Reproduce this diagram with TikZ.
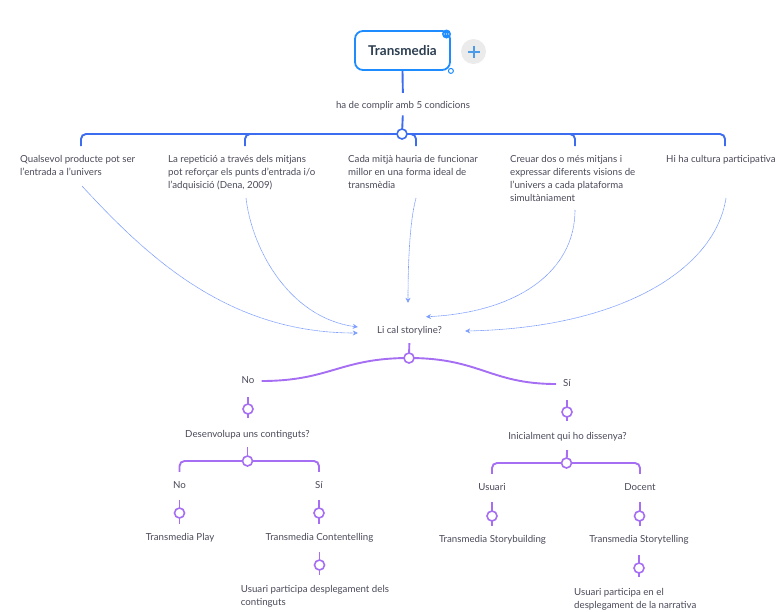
\documentclass[tikz,border=0pt]{standalone}
\usepackage{fontspec}
\setmainfont{Lato}
\usetikzlibrary{arrows.meta,backgrounds}
\definecolor{boxblue}{HTML}{1E8CFF}
\definecolor{lineblue}{HTML}{3C6CF0}
\definecolor{dotblue}{HTML}{7E9EFF}
\definecolor{purp}{HTML}{A56EF3}
\definecolor{txtc}{HTML}{4A4A5A}
\definecolor{tmtext}{HTML}{2C3E50}
\definecolor{plusbg}{HTML}{EBEBEB}
\definecolor{plusc}{HTML}{4C9BE8}
\begin{document}
\begin{tikzpicture}[x=1pt,y=-1pt,
  txt/.style={font=\fontsize{9.7}{12.9}\selectfont, text=txtc, inner sep=0pt, text height=6.5pt, text depth=2pt},
  mtxt/.style={font=\fontsize{9.7}{12.9}\selectfont, text=txtc, inner sep=0pt, align=left, anchor=north west},
  bl/.style={draw=lineblue, line width=1.9pt, rounded corners=5pt},
  pl/.style={draw=purp, line width=1.9pt, rounded corners=5pt},
  bdot/.style={circle, draw=lineblue, fill=white, line width=1.6pt, minimum size=10pt, inner sep=0pt},
  pdot/.style={circle, draw=purp, fill=white, line width=1.6pt, minimum size=10pt, inner sep=0pt},
  link/.style={draw=dotblue, line width=0.6pt, dash pattern=on 1pt off 0.4pt, -{Stealth[length=5pt,width=5pt]}}
]
\useasboundingbox (0,0) rectangle (781,611);

% ---------- top ----------
\node[draw=boxblue, line width=1.8pt, rounded corners=8pt, minimum width=95pt, minimum height=39pt,
      font=\fontsize{13.5}{15}\selectfont\bfseries, text=tmtext] (tm) at (402.5,50.5) {Transmedia};
\node[circle, fill=boxblue, minimum size=9pt, inner sep=0pt] (menu) at (446.5,34) {};
\foreach \dx in {-2.2,0,2.2} \fill[white] ([xshift=\dx pt]menu.center) circle (0.6pt);
\node[circle, draw=boxblue, fill=white, line width=1pt, minimum size=5pt, inner sep=0pt] (grip) at (tm.south east) {};
\node[circle, fill=plusbg, minimum size=25pt, inner sep=0pt] (plus) at (473.5,51.5) {};
\draw[plusc, line width=2pt] ([xshift=-6pt]plus.center) -- ([xshift=6pt]plus.center);
\draw[plusc, line width=2pt] ([yshift=-6pt]plus.center) -- ([yshift=6pt]plus.center);

\node[txt] (cond) at (403,106) {ha de complir amb 5 condicions};
\node[bdot] (c1) at (402,134) {};

\coordinate (b1) at (81,146);
\coordinate (b2) at (245,146);
\coordinate (b4) at (416,146);
\coordinate (b5) at (575,146);
\coordinate (b6) at (725,146);

\begin{scope}[on background layer]
\draw[bl, shorten >=8.75pt] (tm.south) -- (cond.north);
\draw[bl, shorten <=5pt] (cond.south) -- (c1.center);
\draw[bl] (c1.center) -| (b1);
\draw[bl] (c1.center) -| (b2);
\draw[bl] (c1.center) -| (b4);
\draw[bl] (c1.center) -| (b5);
\draw[bl] (c1.center) -| (b6);
\end{scope}

\node[mtxt] (t1) at (20,155.5) {Qualsevol producte pot ser\\l'entrada a l'univers};
\node[mtxt] (t2) at (168,155.5) {La repetició a través dels mitjans\\pot reforçar els punts d'entrada i/o\\l'adquisició (Dena, 2009)};
\node[mtxt] (t3) at (348,155.5) {Cada mitjà hauria de funcionar\\millor en una forma ideal de\\transmèdia};
\node[mtxt] (t4) at (510,155.5) {Creuar dos o més mitjans i\\expressar diferents visions de\\l'univers a cada plataforma\\simultàniament};
\node[mtxt] (t5) at (666,155.5) {Hi ha cultura participativa};

% ---------- storyline ----------
\node[txt] (story) at (409.5,331) {Li cal storyline?};

\coordinate (a0) at (82,186);
\coordinate (a1) at (246,198);
\coordinate (a2) at (416,198);
\coordinate (a3) at (575,210);
\coordinate (a4) at (726,198);

\draw[link] (a0) .. controls (150,260) and (230,333) .. ([xshift=-19pt,yshift=-2pt]story.west);
\draw[link] (a1) .. controls (252,250) and (290,318) .. ([xshift=-19pt,yshift=4pt]story.west);
\draw[link] (a2) .. controls (410,220) and (408,260) .. ([xshift=-1.5pt,yshift=23.75pt]story.north);
\draw[link] (a3) .. controls (575,270) and (520,312) .. ([xshift=16.5pt,yshift=9.75pt]story.north);
\draw[link] (a4) .. controls (715,270) and (620,328) .. ([xshift=23pt]story.east);

% ---------- purple tree ----------
\node[pdot] (p0) at (409,358) {};
\node[txt] (no1) at (248,381) {No};
\node[txt] (si1) at (567,384) {Sí};
\node[pdot] (q1) at (248,409) {};
\node[pdot] (q2) at (567,412) {};
\node[txt] (dev) at (247.5,435) {Desenvolupa uns continguts?};
\node[txt] (ini) at (567.5,437) {Inicialment qui ho dissenya?};
\node[pdot] (pc2) at (247.5,461) {};
\node[pdot] (pc3) at (566.5,463) {};
\node[txt] (no2) at (179.5,486) {No};
\node[txt] (si2) at (319,486) {Sí};
\node[txt] (us) at (492,488) {Usuari};
\node[txt] (doc) at (640,488) {Docent};
\node[pdot] (r1) at (179.5,513) {};
\node[pdot] (r2) at (319,513) {};
\node[pdot] (r3) at (492,516) {};
\node[pdot] (r4) at (639.5,516) {};
\node[txt] (play) at (180,538) {Transmedia Play};
\node[txt] (cont) at (319.5,538) {Transmedia Contentelling};
\node[txt] (sb) at (492.5,540) {Transmedia Storybuilding};
\node[txt] (st) at (639,540) {Transmedia Storytelling};
\node[pdot] (r5) at (319.5,565) {};
\node[pdot] (r6) at (639,568) {};
\node[mtxt] (u1) at (240.7,585) {Usuari participa desplegament dels\\continguts};
\node[mtxt] (u2) at (574,588.5) {Usuari participa en el\\desplegament de la narrativa};

\begin{scope}[on background layer]
\draw[pl, shorten <=7.75pt] (story.south) -- (p0.center);
\draw[pl] (p0.center) .. controls (340,358) and (330,381) .. ([xshift=7pt]no1.east);
\draw[pl] (p0.center) .. controls (480,358) and (490,384) .. ([xshift=-7pt]si1.west);
\draw[pl, shorten <=11.75pt, shorten >=12.75pt] (no1.south) -- (no1.south |- dev.north);
\draw[pl, shorten <=11.75pt, shorten >=11.75pt] (si1.south) -- (si1.south |- ini.north);
\draw[pl, shorten <=7.75pt] (dev.south) -- (pc2.center);
\draw[pl, shorten <=8.75pt] (ini.south) -- (pc3.center);
\draw[pl, shorten >=9.75pt] (pc2.center) -| (no2.north);
\draw[pl, shorten >=9.75pt] (pc2.center) -| (si2.north);
\draw[pl, shorten >=9.75pt] (pc3.center) -| (us.north);
\draw[pl, shorten >=9.75pt] (pc3.center) -| (doc.north);
\draw[pl, shorten <=9.75pt, shorten >=9.75pt] (no2.south) -- (no2.south |- play.north);
\draw[pl, shorten <=9.75pt, shorten >=9.75pt] (si2.south) -- (si2.south |- cont.north);
\draw[pl, shorten <=9.5pt, shorten >=9.75pt] (us.south) -- (us.south |- sb.north);
\draw[pl, shorten <=9.5pt, shorten >=9.75pt] (doc.south) -- (doc.south |- st.north);
\draw[pl, shorten <=9.75pt, shorten >=10.5pt] (cont.south) -- (cont.south |- u1.north);
\draw[pl, shorten <=10.75pt, shorten >=12pt] (st.south) -- (st.south |- u2.north);
\end{scope}
\end{tikzpicture}
\end{document}
